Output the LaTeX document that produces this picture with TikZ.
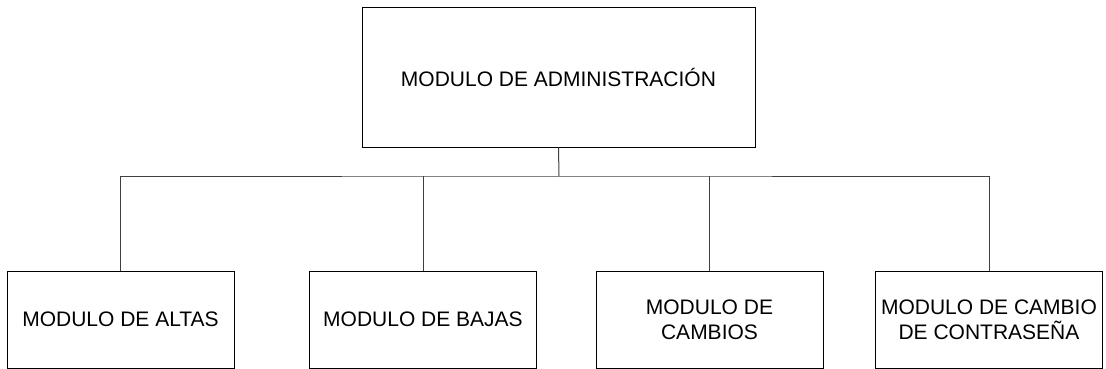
\documentclass[tikz,border=0pt]{standalone}
\usepackage{fontspec}
\setmainfont{Liberation Sans}
\usetikzlibrary{calc}
\newcommand{\modfont}{\fontsize{21pt}{25pt}\selectfont}
\newcommand{\modwidth}{227pt}
\newcommand{\modheight}{97pt}
\tikzset{
    modbox/.style={draw, line width=1pt, align=center, inner sep=0pt,
        minimum width=\modwidth, minimum height=\modheight, font=\modfont},
    link/.style={draw=black!75, line width=1pt}
}

\begin{document}
\begin{tikzpicture}[x=1pt, y=-1pt]

\useasboundingbox (0, 0) rectangle (1106, 369);

% main module
\node[modbox, minimum width=393pt, minimum height=139pt] (adm) at (558.5, 77.5)
    {MODULO DE ADMINISTRACIÓN};

% sub modules
\node[modbox] (altas) at (120.5, 319.5) {MODULO DE ALTAS};
\node[modbox] (bajas) at (423, 319.5) {MODULO DE BAJAS};
\node[modbox] (cambios) at (709.5, 319.5) {MODULO DE\\CAMBIOS};
\node[modbox] (contra) at (989, 319.5) {MODULO DE CAMBIO\\DE CONTRASEÑA};

% bus coordinates
\coordinate (bus) at (559, 176);

\draw[link] (adm.south) -- (bus);
\draw[link] (altas.north) |- (bus) -| (contra.north);
\foreach \mname in {bajas, cambios}
    \draw[link] (\mname.north) -- (\mname.north |- bus);

\end{tikzpicture}
\end{document}
